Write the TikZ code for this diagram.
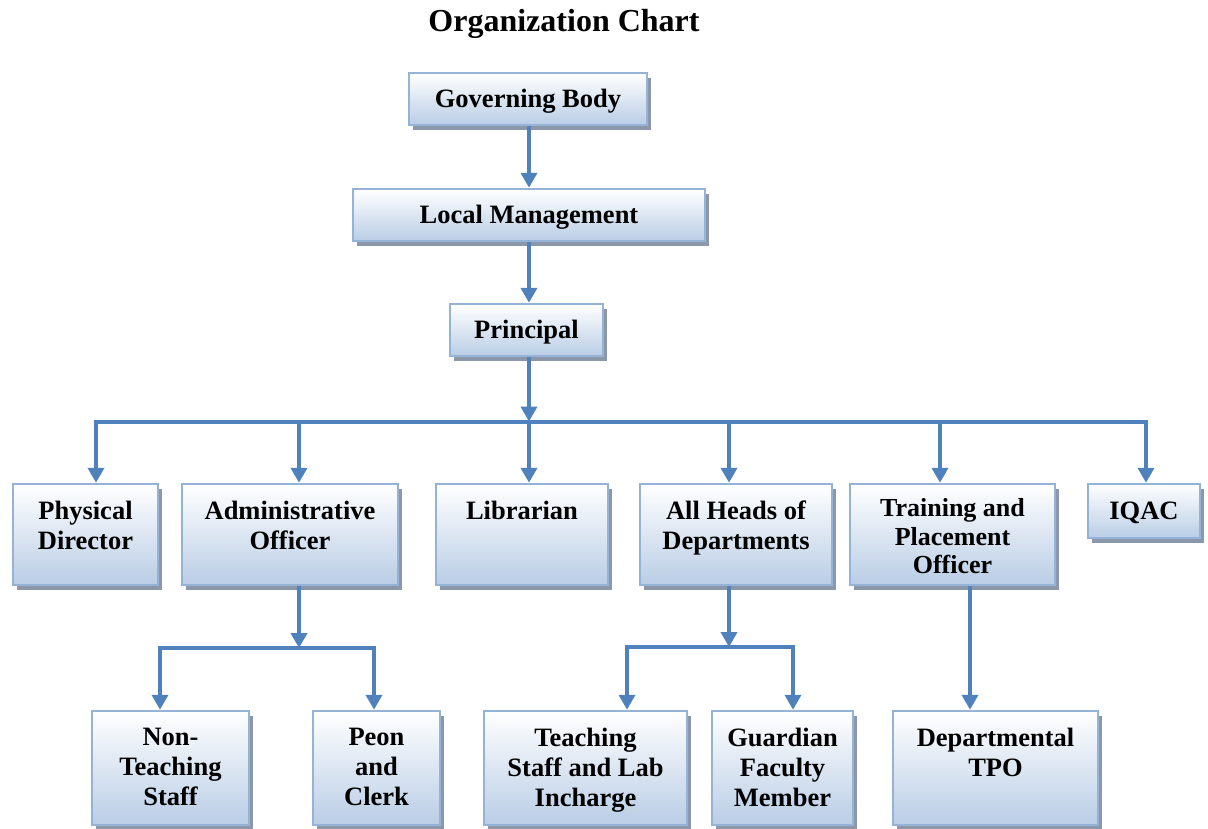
\documentclass[tikz,border=0pt]{standalone}
\usepackage{fontspec}
\setmainfont{Liberation Serif}
\usetikzlibrary{arrows.meta,shadows}
\definecolor{lineblue}{RGB}{79,129,189}
\definecolor{boxborder}{RGB}{149,179,215}
\definecolor{boxfill}{RGB}{185,205,229}
\definecolor{shadowgray}{RGB}{140,152,170}
\tikzset{
  box/.style={draw=boxborder, line width=2.5pt, top color=white, bottom color=boxfill,
    drop shadow={shadow xshift=4pt, shadow yshift=-5pt, fill=shadowgray, opacity=1},
    inner sep=0pt, text height=20pt, text depth=2.5pt,
    font=\fontsize{26.5}{30}\selectfont\bfseries, align=center},
  txt/.style={anchor=north, inner sep=0pt, align=center, font=\fontsize{26.5}{30}\selectfont\bfseries},
  conn/.style={draw=lineblue, line width=4pt, -{Triangle[width=16pt,length=15pt]}},
}
\begin{document}
\begin{tikzpicture}[x=1pt,y=-1pt]
\useasboundingbox (0,0) rectangle (1208,828);
\node[font=\fontsize{32}{36}\selectfont\bfseries] (title) at (564,24) {Organization Chart};
% top chain
\node[box, minimum width=238, minimum height=52] (gb) at (528,99) {Governing Body};
\node[box, minimum width=352, minimum height=52] (lm) at (529,215) {Local Management};
\node[box, minimum width=153, minimum height=52] (pr) at (526.5,330) {Principal};
% second row
\node[box, minimum width=145, minimum height=101] (pd) at (85.5,534.5) {};
\node[box, minimum width=216, minimum height=101] (ao) at (290,534.5) {};
\node[box, minimum width=172, minimum height=101] (lb) at (522,534.5) {};
\node[box, minimum width=192, minimum height=101] (hd) at (736,534.5) {};
\node[box, minimum width=205, minimum height=101] (tp) at (952.5,534.5) {};
\node[box, minimum width=112, minimum height=54] (iq) at (1144,511) {IQAC};
\node[txt] (pdt) at ([yshift=-18pt]pd.north) {Physical\\Director};
\node[txt] (aot) at ([yshift=-18pt]ao.north) {Administrative\\Officer};
\node[txt] (lbt) at ([yshift=-18pt]lb.north) {Librarian};
\node[txt] (hdt) at ([yshift=-18pt]hd.north) {All Heads of\\Departments};
\node[txt, font=\fontsize{26}{28.5}\selectfont\bfseries] (tpt) at ([yshift=-16pt]tp.north) {Training and\\Placement\\Officer};
% third row
\node[box, minimum width=157, minimum height=114] (nt) at (170.5,768) {};
\node[box, minimum width=127, minimum height=114] (pc) at (376.5,768) {};
\node[box, minimum width=203, minimum height=114] (ts) at (585.5,768) {};
\node[box, minimum width=141, minimum height=114] (gf) at (782.5,768) {};
\node[box, minimum width=205, minimum height=114] (dt) at (995.5,768) {};
\node[txt] (ntt) at ([yshift=-18pt]nt.north) {Non-\\Teaching\\Staff};
\node[txt] (pct) at ([yshift=-18pt]pc.north) {Peon\\and\\Clerk};
\node[txt] (tst) at ([yshift=-18pt]ts.north) {Teaching\\Staff and Lab\\Incharge};
\node[txt] (gft) at ([yshift=-18pt]gf.north) {Guardian\\Faculty\\Member};
\node[txt] (dtt) at ([yshift=-18pt]dt.north) {Departmental\\TPO};
% connectors, top chain
\coordinate (xc) at (529,0);
\draw[conn] (xc |- gb.south) -- (xc |- lm.north);
\draw[conn] (xc |- lm.south) -- (xc |- pr.north);
% principal bus
\coordinate (b0) at (529,421.5);
\coordinate (bpd) at (96,421.5);
\coordinate (bao) at (299,421.5);
\coordinate (blb) at (529,421.5);
\coordinate (bhd) at (729,421.5);
\coordinate (btp) at (940,421.5);
\coordinate (biq) at (1146,421.5);
\draw[conn] (xc |- pr.south) -- (b0);
\draw[conn] (b0) -- (bpd) -- (bpd |- pd.north);
\draw[conn] (b0) -- (biq) -- (biq |- iq.north);
\draw[conn] (bao) -- (bao |- ao.north);
\draw[conn] (blb) -- (blb |- lb.north);
\draw[conn] (bhd) -- (bhd |- hd.north);
\draw[conn] (btp) -- (btp |- tp.north);
% admin bus
\coordinate (ba) at (299,648);
\coordinate (bnt) at (160,648);
\coordinate (bpc) at (374,648);
\draw[conn] (ba |- ao.south) -- (ba);
\draw[conn] (ba) -- (bnt) -- (bnt |- nt.north);
\draw[conn] (ba) -- (bpc) -- (bpc |- pc.north);
% HoD bus
\coordinate (bh) at (729,647);
\coordinate (bts) at (627,647);
\coordinate (bgf) at (793,647);
\draw[conn] (bh |- hd.south) -- (bh);
\draw[conn] (bh) -- (bts) -- (bts |- ts.north);
\draw[conn] (bh) -- (bgf) -- (bgf |- gf.north);
% TPO
\coordinate (xtp) at (970,600);
\draw[conn] (xtp |- tp.south) -- (xtp |- dt.north);
\end{tikzpicture}
\end{document}
